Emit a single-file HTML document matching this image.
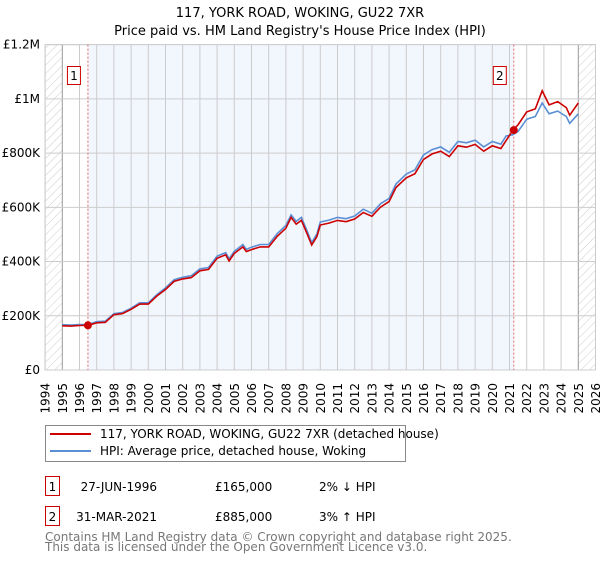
<!DOCTYPE html>
<html><head><meta charset="utf-8"><style>
body{margin:0;background:#fff;font-family:"DejaVu Sans","Liberation Sans",sans-serif;}
svg text{font-family:"DejaVu Sans","Liberation Sans",sans-serif;}
</style></head><body>
<svg id="chart" width="600" height="560" viewBox="0 0 600 560">
<defs>
<pattern id="hatch" width="6" height="6" patternUnits="userSpaceOnUse" patternTransform="rotate(45)">
<line x1="0" y1="0" x2="0" y2="6" stroke="#ccc" stroke-width="1"/></pattern>
</defs>
<text x="300" y="17" text-anchor="middle" font-size="13">117, YORK ROAD, WOKING, GU22 7XR</text>
<text x="300" y="35" text-anchor="middle" font-size="13">Price paid vs. HM Land Registry's House Price Index (HPI)</text>
<g id="plot"></g>
<g>
<rect x="45.5" y="425.5" width="360" height="36" fill="#fff" stroke="#888"/>
<line x1="50" y1="434" x2="91" y2="434" stroke="#cc0000" stroke-width="2"/>
<text x="100" y="438" font-size="12">117, YORK ROAD, WOKING, GU22 7XR (detached house)</text>
<line x1="50" y1="451" x2="91" y2="451" stroke="#5b8fd4" stroke-width="2"/>
<text x="100" y="455" font-size="12">HPI: Average price, detached house, Woking</text>
</g>
<g font-size="12">
<rect x="45.5" y="476.5" width="14" height="19" fill="#fff" stroke="#cc0000"/>
<text x="52.5" y="491" text-anchor="middle">1</text>
<text x="157" y="491" text-anchor="end">27-JUN-1996</text>
<text x="215" y="491">£165,000</text>
<text x="319" y="491">2% ↓ HPI</text>
<rect x="45.5" y="506.5" width="14" height="19" fill="#fff" stroke="#cc0000"/>
<text x="52.5" y="521" text-anchor="middle">2</text>
<text x="157" y="521" text-anchor="end">31-MAR-2021</text>
<text x="215" y="521">£885,000</text>
<text x="319" y="521">3% ↑ HPI</text>
</g>
<text x="45" y="541" font-size="12" fill="#777">Contains HM Land Registry data © Crown copyright and database right 2025.</text>
<text x="45" y="551" font-size="12" fill="#777">This data is licensed under the Open Government Licence v3.0.</text>
</svg>
<script>
const hpiYears=[1995,1995.5,1996,1996.5,1997,1997.5,1998,1998.5,1999,1999.5,2000,2000.5,2001,2001.5,2002,2002.5,2003,2003.5,2004,2004.5,2004.7,2005,2005.5,2005.7,2006,2006.5,2007,2007.5,2008,2008.3,2008.6,2008.9,2009.2,2009.5,2009.8,2010,2010.5,2011,2011.5,2012,2012.5,2013,2013.5,2014,2014.4,2015,2015.5,2016,2016.5,2017,2017.5,2018,2018.5,2019,2019.5,2020,2020.5,2020.8,2021.2,2021.5,2022,2022.5,2022.9,2023.3,2023.8,2024.3,2024.5,2025];
const hpiValues=[167,166,168,168,178,180,208,212,228,248,248,278,303,333,342,348,373,378,420,433,410,438,463,445,453,463,463,503,533,572,548,563,518,470,502,546,553,563,558,568,593,578,613,633,686,723,738,793,813,823,803,843,838,848,823,843,833,863,868,880,925,935,985,945,955,935,910,945];
const redYears=hpiYears;
const redValues=[163,162,164,165,174,176,204,208,224,243,243,273,297,327,336,341,366,371,412,425,402,430,454,437,444,454,454,493,523,563,538,552,508,461,492,535,542,552,547,557,581,567,601,621,673,709,724,777,797,807,787,827,822,832,807,827,817,846,885,905,952,963,1030,978,990,968,940,985];
const sales=[[1996.49,165],[2021.25,885]];
const yTicks=[0,200,400,600,800,1000,1200];
const yTickLabels=["£0","£200K","£400K","£600K","£800K","£1M","£1.2M"];
const xTicks=[1994,1995,1996,1997,1998,1999,2000,2001,2002,2003,2004,2005,2006,2007,2008,2009,2010,2011,2012,2013,2014,2015,2016,2017,2018,2019,2020,2021,2022,2023,2024,2025,2026];
const X=y=>45.1+(y-1994)*17.2;
const Y=v=>370-v*0.2711;
const NS="http://www.w3.org/2000/svg";
const g=document.getElementById('plot');
function el(t,a,p){const e=document.createElementNS(NS,t);for(const k in a)e.setAttribute(k,a[k]);(p||g).appendChild(e);return e;}
let r=el('rect',{x:X(1994),y:Y(1200),width:X(2026)-X(1994),height:Y(0)-Y(1200),fill:'#fff',stroke:'#ccc'});


r=el('rect',{x:X(sales[0][0]),y:Y(1200),width:X(sales[1][0])-X(sales[0][0]),height:Y(0)-Y(1200),fill:'#f2f6fd'});


r=el('rect',{x:X(1994),y:Y(1200),width:X(1995)-X(1994),height:Y(0)-Y(1200),fill:'url(#hatch)'});


r=el('rect',{x:X(2025),y:Y(1200),width:X(2026)-X(2025),height:Y(0)-Y(1200),fill:'url(#hatch)'});


xTicks.forEach(t=>{const l=el('line',{x1:X(t),x2:X(t),y1:Y(1200),y2:Y(0),stroke:(t==1995||t==2025)?'#999':'#ccc'});


const tx=el('text',{x:0,y:0,'font-size':12,'text-anchor':'end',transform:`translate(${X(t)+4.5},383) rotate(-90)`});tx.textContent=t;

});
yTicks.forEach((t,i)=>{const l=el('line',{x1:X(1994),x2:X(2026),y1:Y(t),y2:Y(t),stroke:'#ccc'});


const tx=el('text',{x:40,y:Y(t)+4,'font-size':12,'text-anchor':'end'});tx.textContent=yTickLabels[i];

});
sales.forEach((s,i)=>{const l=el('line',{x1:X(s[0]),x2:X(s[0]),y1:Y(1200),y2:Y(0),stroke:'#e06666','stroke-dasharray':'2,2'});


const b=el('rect',{x:X(s[0])-20.5,y:66.5,width:13,height:18,fill:'#fff',stroke:'#cc0000'});


const tx=el('text',{x:X(s[0])-14,y:80,'font-size':12,'text-anchor':'middle'});tx.textContent=i+1;

});
const path=(xs,vs)=>xs.map((x,i)=>(i?'L':'M')+X(x).toFixed(1)+','+Y(vs[i]).toFixed(1)).join('');
let p=el('path',{d:path(hpiYears,hpiValues),fill:'none',stroke:'#5b8fd4','stroke-width':1.6});


p=el('path',{d:path(redYears,redValues),fill:'none',stroke:'#cc0000','stroke-width':1.6});


sales.forEach(s=>{const c=el('circle',{cx:X(s[0]),cy:Y(s[1]),r:4,fill:'#cc0000'});

});
</script>
</body></html>
